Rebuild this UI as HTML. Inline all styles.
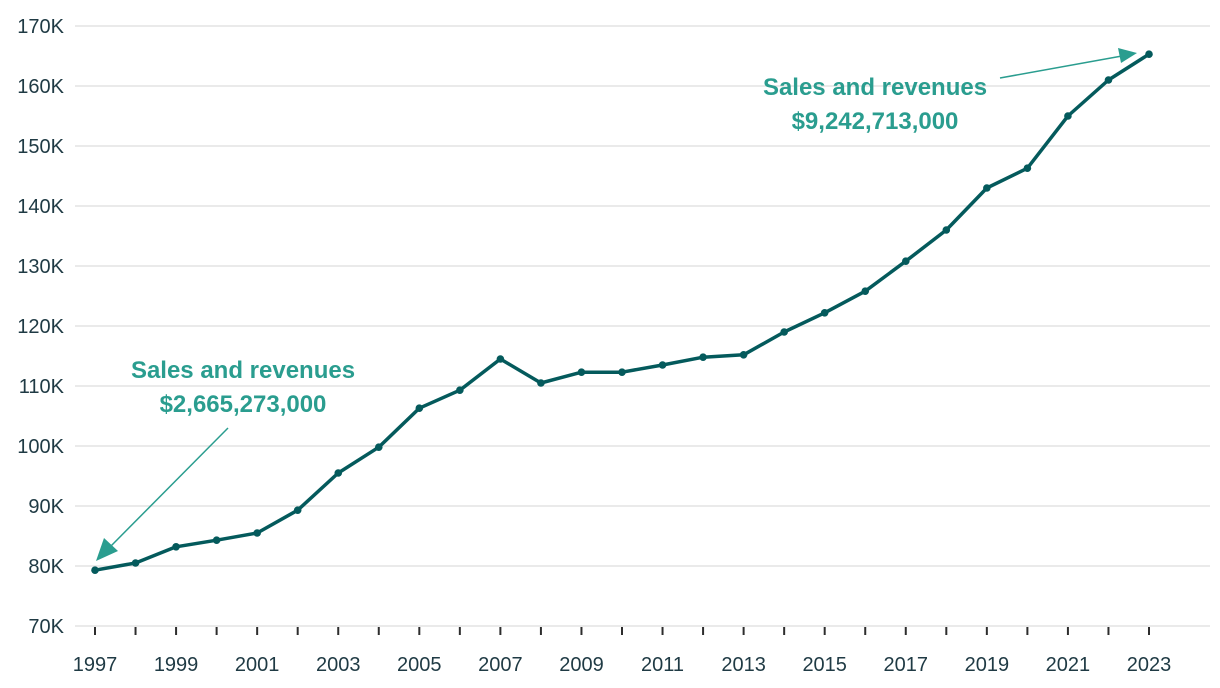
<!DOCTYPE html>
<html><head><meta charset="utf-8"><style>
html,body{margin:0;padding:0;background:#fff;width:1220px;height:688px;overflow:hidden}
svg text{font-family:"Liberation Sans",sans-serif}
</style></head><body>
<svg id="chart" width="1220" height="688" xmlns="http://www.w3.org/2000/svg">
<g id="grid"></g>
<g id="yaxis"></g>
<g id="xaxis"></g>
<path id="line" fill="none" stroke="#045a5c" stroke-width="3.5" stroke-linejoin="round"></path>
<g id="pts"></g>
<g fill="#2a9d8f" font-size="24" font-weight="bold" text-anchor="middle">
<text x="243" y="378">Sales and revenues</text>
<text x="243" y="412">$2,665,273,000</text>
<line x1="228" y1="428" x2="108" y2="549" stroke="#2a9d8f" stroke-width="1.5"/>
<polygon points="96,561 104,538 118,551" fill="#2a9d8f"/>
</g>
<g fill="#2a9d8f" font-size="24" font-weight="bold" text-anchor="middle">
<text x="875" y="95">Sales and revenues</text>
<text x="875" y="129">$9,242,713,000</text>
<line x1="1000" y1="78" x2="1122" y2="56" stroke="#2a9d8f" stroke-width="1.5"/>
<polygon points="1137,53 1118,48 1121,63" fill="#2a9d8f"/>
</g>
</svg>
<script>
const years=[1997,1998,1999,2000,2001,2002,2003,2004,2005,2006,2007,2008,2009,2010,2011,2012,2013,2014,2015,2016,2017,2018,2019,2020,2021,2022,2023];
const sales=[79.3,80.5,83.2,84.3,85.5,89.3,95.5,99.8,106.3,109.3,114.5,110.5,112.3,112.3,113.5,114.8,115.2,119.0,122.2,125.8,130.8,136.0,143.0,146.3,155.0,161.0,165.3];
const yTicks=[70,80,90,100,110,120,130,140,150,160,170];
const NS="http://www.w3.org/2000/svg";
const x=v=>95+(v-1997)*(1149-95)/26;
const y=v=>626-(v-70)*6;
function mk(t,a,p){const e=document.createElementNS(NS,t);for(const k in a)e.setAttribute(k,a[k]);p.appendChild(e);return e;}
const grid=document.getElementById('grid'),ya=document.getElementById('yaxis'),xa=document.getElementById('xaxis'),pts=document.getElementById('pts');
yTicks.forEach(t=>{
 const l=mk('line',{x1:75,x2:1210,y1:y(t),y2:y(t),stroke:'#e3e3e3','stroke-width':1.5},grid);
 
 
 const tx=mk('text',{x:64,y:y(t)+7,'text-anchor':'end','font-size':20,fill:'#1f3a44'},ya);
 tx.textContent=t+'K';
 
 
});
years.forEach((yr,i)=>{
 const tk=mk('line',{x1:x(yr),x2:x(yr),y1:627,y2:635,stroke:'#2d2d2d','stroke-width':2},xa);
 
 
 if(i%2===0){
  const tx=mk('text',{x:x(yr),y:671,'text-anchor':'middle','font-size':20,fill:'#1f3a44'},xa);
  tx.textContent=yr;
  
  
 }
});
document.getElementById('line').setAttribute('d',years.map((yr,i)=>(i?'L':'M')+x(yr)+' '+y(sales[i])).join(' '));
years.forEach((yr,i)=>{
 const c=mk('circle',{cx:x(yr),cy:y(sales[i]),r:3.8,fill:'#045a5c'},pts);
 
 
});
</script>
</body></html>
